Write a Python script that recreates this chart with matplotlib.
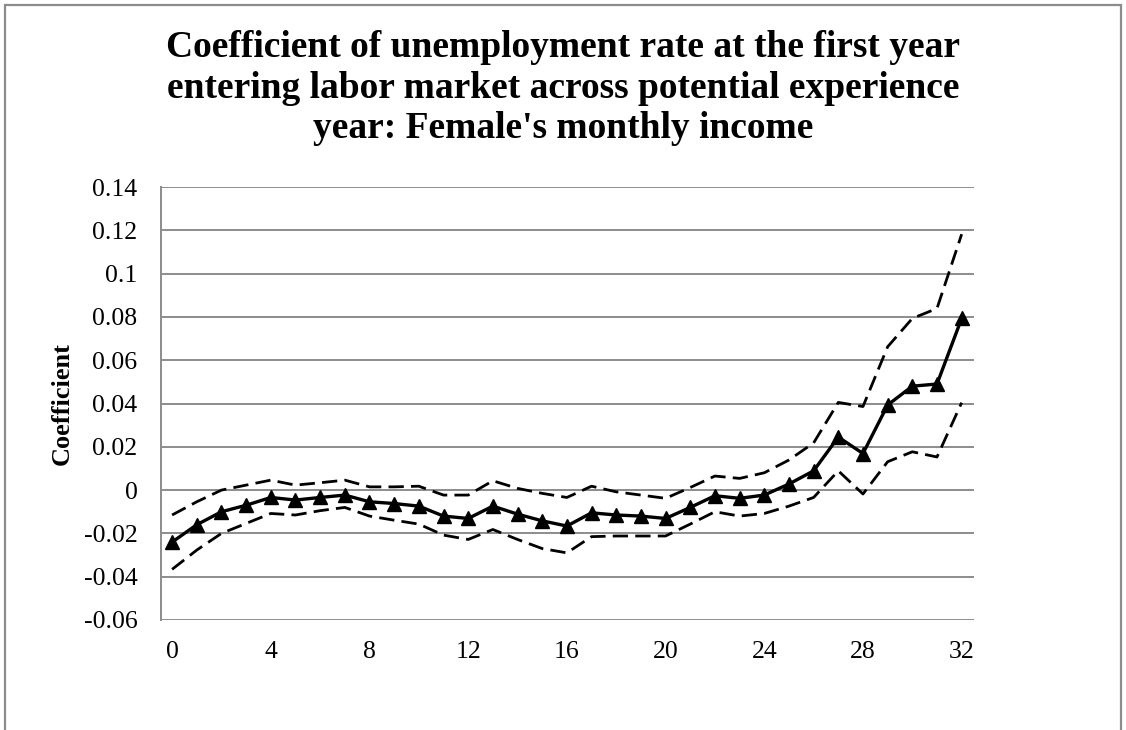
import matplotlib
matplotlib.use("Agg")
import matplotlib.pyplot as plt
from matplotlib.patches import Rectangle

years = list(range(33))
coef = [-0.024, -0.016, -0.010, -0.007, -0.0034, -0.0046, -0.0034, -0.0023, -0.0054, -0.0062,
        -0.0074, -0.012, -0.0131, -0.0074, -0.0111, -0.0142, -0.0166, -0.0105, -0.0115, -0.012,
        -0.0131, -0.008, -0.0026, -0.0038, -0.0023, 0.0028, 0.0089, 0.0245, 0.0169, 0.0393,
        0.048, 0.049, 0.0793]
upper = [-0.0115, -0.0054, 0.0, 0.0023, 0.0046, 0.0023, 0.0034, 0.0046, 0.0015, 0.0015,
         0.0018, -0.0023, -0.0023, 0.0043, 0.0008, -0.0015, -0.0034, 0.0018, -0.0008, -0.0023,
         -0.0038, 0.0012, 0.0065, 0.0054, 0.008, 0.0139, 0.0218, 0.0405, 0.0386, 0.0662,
         0.0793, 0.0839, 0.1182]
lower = [-0.0366, -0.0277, -0.020, -0.0154, -0.0108, -0.0115, -0.0095, -0.008, -0.012, -0.0139,
         -0.0157, -0.0208, -0.0228, -0.0182, -0.0228, -0.027, -0.029, -0.0215, -0.0212, -0.0212,
         -0.0212, -0.0157, -0.010, -0.012, -0.0108, -0.0074, -0.0034, 0.0089, -0.0018, 0.0131,
         0.0177, 0.0153, 0.0404]
xticks = [0, 4, 8, 12, 16, 20, 24, 28, 32]
yticks = [-0.06, -0.04, -0.02, 0, 0.02, 0.04, 0.06, 0.08, 0.1, 0.12, 0.14]
ytick_labels = ["-0.06", "-0.04", "-0.02", "0", "0.02", "0.04", "0.06", "0.08", "0.1", "0.12", "0.14"]
title = ("Coefficient of unemployment rate at the first year\n"
         "entering labor market across potential experience\n"
         "year: Female's monthly income")

W, H = 1126, 730
plt.rcParams['font.family'] = ['Liberation Serif', 'DejaVu Serif']
fig = plt.figure(figsize=(W / 100, H / 100), dpi=100)
ax = fig.add_axes([161 / W, (H - 620) / H, (974 - 161) / W, (620 - 187) / H])

grid_c = '#8c8c8c'
ax.plot(years, upper, color='black', lw=2.0, dashes=(5.5, 2.6))
ax.plot(years, lower, color='black', lw=2.0, dashes=(5.5, 2.6))
ax.plot(years, coef, color='black', lw=2.4, marker='^', markersize=9.5)

ax.set_xlim(-0.45, 32.5)
ax.set_ylim(-0.06, 0.14)
ax.set_yticks(yticks)
ax.set_yticklabels(ytick_labels)
ax.set_xticks(xticks)
ax.yaxis.grid(True, color=grid_c, lw=1.4)
ax.set_axisbelow(True)
for s in ['top', 'right', 'bottom']:
    ax.spines[s].set_visible(False)
ax.spines['left'].set_color(grid_c)
ax.spines['left'].set_linewidth(1.4)
ax.tick_params(axis='y', length=0, pad=17, labelsize=18.5)
ax.tick_params(axis='x', length=0, pad=15, labelsize=18.5)
ax.set_ylabel("Coefficient", fontsize=19, fontweight='bold', va='center')
ax.yaxis.set_label_coords((62 - 161) / 813, 0.5)

fig.text(0.5, 1 - 88 / H, title, ha='center', va='center', fontsize=27,
         fontweight='bold', linespacing=1.22)

fig.patches.append(Rectangle((4.5 / W, -0.05), (1121 - 4.5) / W, 1.05 - 5 / H,
                             transform=fig.transFigure, fill=False,
                             edgecolor='#8c8c8c', lw=1.6))

fig.savefig("out.png", dpi=100)
